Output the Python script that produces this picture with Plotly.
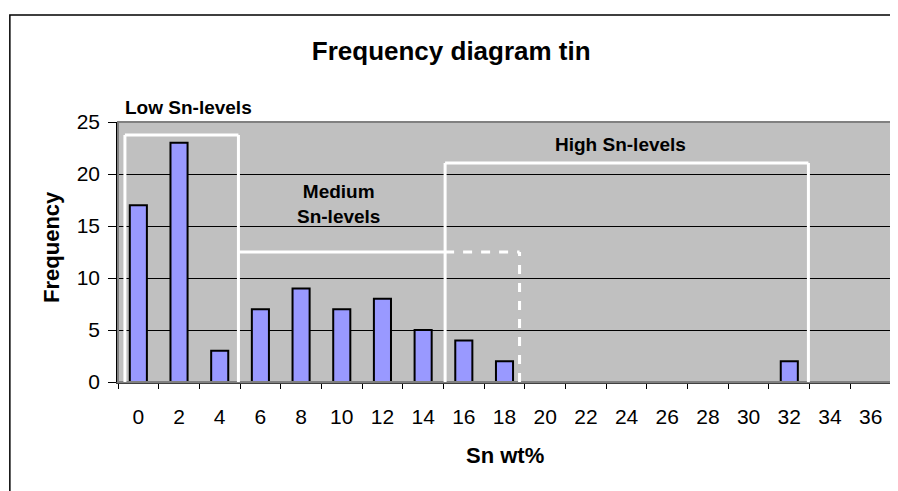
import plotly.graph_objects as go

categories = ["0", "2", "4", "6", "8", "10", "12", "14", "16", "18", "20",
              "22", "24", "26", "28", "30", "32", "34", "36"]
frequency = [17, 23, 3, 7, 9, 7, 8, 5, 4, 2, 0, 0, 0, 0, 0, 0, 2, 0, 0]

FONT = "Liberation Sans, Arial, sans-serif"

fig = go.Figure()
fig.add_trace(go.Bar(
    x=categories, y=frequency,
    marker=dict(color="#9999FF", line=dict(color="black", width=2)),
    showlegend=False,
))

W = "white"
lw = 3
shapes = [
    # outer chart border
    dict(type="rect", xref="paper", yref="paper", x0=-0.1399, y0=-1.0, x1=1.2, y1=1.4115,
         line=dict(color="black", width=1.5), layer="below"),
    # plot area border (top/right grey)
    dict(type="rect", xref="paper", yref="paper", x0=0, y0=0, x1=1, y1=1,
         line=dict(color="#808080", width=2), layer="above"),
    # Low box
    dict(type="line", xref="x", yref="y", x0=-0.33, y0=0, x1=-0.33, y1=23.75, line=dict(color=W, width=lw)),
    dict(type="line", xref="x", yref="y", x0=-0.33, y0=23.75, x1=2.46, y1=23.75, line=dict(color=W, width=lw)),
    dict(type="line", xref="x", yref="y", x0=2.46, y0=0, x1=2.46, y1=23.75, line=dict(color=W, width=lw)),
    # Medium top
    dict(type="line", xref="x", yref="y", x0=2.46, y0=12.5, x1=7.54, y1=12.5, line=dict(color=W, width=lw)),
    # High box
    dict(type="line", xref="x", yref="y", x0=7.54, y0=0, x1=7.54, y1=21.06, line=dict(color=W, width=lw)),
    dict(type="line", xref="x", yref="y", x0=7.54, y0=21.06, x1=16.47, y1=21.06, line=dict(color=W, width=lw)),
    dict(type="line", xref="x", yref="y", x0=16.47, y0=0, x1=16.47, y1=21.06, line=dict(color=W, width=lw)),
    # dashed extension
    dict(type="line", xref="x", yref="y", x0=7.54, y0=12.5, x1=9.37, y1=12.5,
         line=dict(color=W, width=lw, dash="dash")),
    dict(type="line", xref="x", yref="y", x0=9.37, y0=0, x1=9.37, y1=12.5,
         line=dict(color=W, width=lw, dash="dash")),
]

annotations = [
    dict(text="<b>Low Sn-levels</b>", xref="paper", yref="paper", x=0.0907, y=1.054,
         showarrow=False, font=dict(size=19, color="black", family=FONT), xanchor="center", yanchor="middle"),
    dict(text="<b>Medium<br>Sn-levels</b>", xref="paper", yref="paper", x=0.285, y=0.685,
         showarrow=False, font=dict(size=19, color="black", family=FONT), xanchor="center", yanchor="middle"),
    dict(text="<b>High Sn-levels</b>", xref="paper", yref="paper", x=0.650, y=0.912,
         showarrow=False, font=dict(size=19, color="black", family=FONT), xanchor="center", yanchor="middle"),
    dict(text="<b>Frequency</b>", xref="paper", yref="paper", x=-0.0868, y=0.519, textangle=-90,
         showarrow=False, font=dict(size=22, color="black", family=FONT), xanchor="center", yanchor="middle"),
    dict(text="<b>Sn wt%</b>", xref="paper", yref="paper", x=0.5, y=-0.281,
         showarrow=False, font=dict(size=22, color="black", family=FONT), xanchor="center", yanchor="middle"),
]

fig.update_layout(
    width=890, height=483,
    margin=dict(l=110, r=7, t=114, b=109),
    paper_bgcolor="white", plot_bgcolor="#C0C0C0",
    bargap=0.58,
    font=dict(family=FONT, color="black"),
    title=dict(text="<b>Frequency diagram tin</b>", x=0.498, xref="container", xanchor="center",
               y=1 - 43 / 483, yref="container", yanchor="middle",
               font=dict(size=26, color="black", family=FONT)),
    shapes=shapes,
    annotations=annotations,
    xaxis=dict(type="category", categoryorder="array", categoryarray=categories,
               tickson="boundaries", ticks="outside", ticklen=5, tickcolor="black", tickwidth=1,
               showline=True, linecolor="#404040", linewidth=2,
               showgrid=False, tickfont=dict(size=21, color="black"), ticklabelstandoff=15,
               fixedrange=True),
    yaxis=dict(range=[0, 25], dtick=5, tick0=0, showgrid=True, gridcolor="black", gridwidth=1,
               ticks="outside", ticklen=8, tickcolor="black", showline=True, linecolor="black",
               linewidth=1.5, zeroline=False, tickfont=dict(size=21, color="black"),
               ticklabelstandoff=4, fixedrange=True),
)

fig.write_html("out.html")
